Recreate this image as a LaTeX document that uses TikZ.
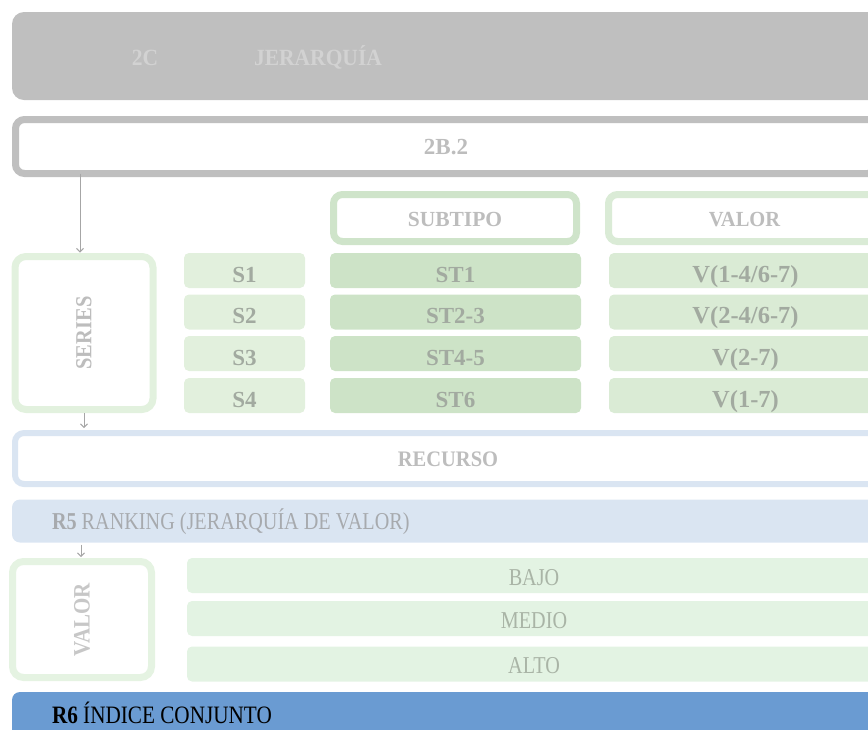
\documentclass[tikz,border=0pt]{standalone}
\usepackage{fontspec}
\setmainfont{Liberation Serif}
\usetikzlibrary{arrows.meta,calc}
\definecolor{cTop}{HTML}{BFBFBF}
\definecolor{cTopTxt}{HTML}{D2D2D2}
\definecolor{cB2}{HTML}{BFBFBF}
\definecolor{cGrayTxt}{HTML}{BDBDBD}
\definecolor{cSubB}{HTML}{CFE4CA}
\definecolor{cValB}{HTML}{DAEBD6}
\definecolor{cS}{HTML}{E2F0DD}
\definecolor{cST}{HTML}{CDE3C7}
\definecolor{cV}{HTML}{DAEBD5}
\definecolor{cSerB}{HTML}{E2F1DE}
\definecolor{cTxt}{HTML}{A2AAA0}
\definecolor{cR5Txt}{HTML}{A7AAAE}
\definecolor{cRecB}{HTML}{DAE5F2}
\definecolor{cR5}{HTML}{DAE5F2}
\definecolor{cValL}{HTML}{E5F3E2}
\definecolor{cLvl}{HTML}{E3F3E3}
\definecolor{cLvlTxt}{HTML}{A9B4A6}
\definecolor{cR6}{HTML}{6A9BD2}
\definecolor{cArr}{HTML}{A6A6A6}
\newcommand\vstretch[1]{\scalebox{1}[1.2]{#1}}
\begin{document}
\begin{tikzpicture}[x=1pt,y=-1pt,
  base/.style={inner sep=0pt, outer sep=0pt},
  hfont/.style={font=\fontsize{21.5}{25}\selectfont\bfseries},
  rfont/.style={font=\fontsize{20.2}{24}\selectfont},
  frame/.style={base, draw, line width=7pt, rounded corners=9pt, fill=white},
  cell/.style={base, rounded corners=5pt, minimum height=35pt, text height=23pt, text depth=0pt,
     font=\fontsize{23}{26}\selectfont\bfseries, text=cTxt},
  vcell/.style={cell, font=\fontsize{24.5}{27}\selectfont\bfseries, fill=cV, minimum width=273pt},
  lvl/.style={base, rounded corners=5pt, minimum height=35pt, text height=19pt, text depth=0pt,
     rfont, text=cLvlTxt, fill=cLvl, minimum width=694pt},
  conn/.style={draw=cArr, line width=1pt, -{Straight Barb[length=3.5pt,width=7pt]}}
]
\useasboundingbox (0,0) rectangle (868,729);
\clip (0,0) rectangle (868,729);

% top header
\node[base, fill=cTop, rounded corners=12pt, minimum width=908pt, minimum height=88pt] (top) at (466,56) {};
\node[base, hfont, text=cTopTxt, anchor=base] (t2c) at (145,65) {\scalebox{1}[1.08]{2C}};
\node[base, hfont, text=cTopTxt, anchor=base] (tjer) at (318,65) {\scalebox{1}[1.08]{JERARQUÍA}};

% 2B.2
\node[frame, draw=cB2, minimum width=861pt, minimum height=54pt, text height=15pt, text depth=0pt,
  font=\fontsize{23}{26}\selectfont\bfseries, text=cGrayTxt] (b2) at (446,146.5) {2B.2};

% headers
\node[frame, draw=cSubB, minimum width=243pt, minimum height=47pt, text height=16pt, text depth=0pt,
  hfont, text=cGrayTxt] (hsub) at (455,218) {SUBTIPO};
\node[frame, draw=cValB, minimum width=272pt, minimum height=47pt, text height=16pt, text depth=0pt,
  font=\fontsize{20.5}{24}\selectfont\bfseries, text=cGrayTxt] (hval) at (744.5,218) {\scalebox{1}[1.05]{VALOR}};

% series box
\node[frame, draw=cSerB, minimum width=138pt, minimum height=153pt, rounded corners=11pt,
  font=\fontsize{20.5}{24}\selectfont\bfseries, text=cGrayTxt] (series) at (84,333) {\rotatebox{90}{\scalebox{1}[1.12]{SERIES}}};

% rows
\node[cell, fill=cS, minimum width=121pt] (s1) at (244.5,270.5) {S1};
\node[cell, fill=cS, minimum width=121pt] (s2) at (244.5,312) {S2};
\node[cell, fill=cS, minimum width=121pt] (s3) at (244.5,353.5) {S3};
\node[cell, fill=cS, minimum width=121pt] (s4) at (244.5,395.5) {S4};
\node[cell, fill=cST, minimum width=251pt] (st1) at (455.5,270.5) {ST1};
\node[cell, fill=cST, minimum width=251pt] (st2) at (455.5,312) {ST2-3};
\node[cell, fill=cST, minimum width=251pt] (st3) at (455.5,353.5) {ST4-5};
\node[cell, fill=cST, minimum width=251pt] (st4) at (455.5,395.5) {ST6};
\node[vcell] (v1) at (745.5,270.5) {V(1-4/6-7)};
\node[vcell] (v2) at (745.5,312) {V(2-4/6-7)};
\node[vcell] (v3) at (745.5,353.5) {V(2-7)};
\node[vcell] (v4) at (745.5,395.5) {V(1-7)};

% recurso
\node[frame, draw=cRecB, line width=6pt, minimum width=866pt, minimum height=51pt, text height=16.4pt, text depth=0pt,
  font=\fontsize{20.5}{24}\selectfont\bfseries, text=cGrayTxt] (rec) at (448,458.5) {\scalebox{1}[1.08]{RECURSO}};

% R5 bar
\node[base, fill=cR5, rounded corners=8pt, minimum width=908pt, minimum height=43pt] (r5) at (466,521) {};
\node[base, rfont, text=cR5Txt, anchor=base west] (r5t) at (52,529) {\vstretch{\textbf{R5} RANKING (JERARQUÍA DE VALOR)}};

% valor box
\node[frame, draw=cValL, minimum width=139pt, minimum height=116pt, rounded corners=11pt,
  font=\fontsize{21}{24}\selectfont\bfseries, text=cGrayTxt!85!white] (valbox) at (82,619.5) {\rotatebox{90}{\scalebox{1}[1.12]{VALOR}}};

% levels
\node[lvl] (bajo) at (534,575.5) {\vstretch{BAJO}};
\node[lvl] (medio) at (534,618.5) {\vstretch{MEDIO}};
\node[lvl] (alto) at (534,664) {\vstretch{ALTO}};

% R6
\node[base, fill=cR6, rounded corners=8pt, minimum width=908pt, minimum height=50pt] (r6) at (466,717) {};
\node[base, font=\fontsize{21.2}{25}\selectfont, text=black, anchor=base west] (r6t) at (52,723) {\scalebox{1}[1.18]{\textbf{R6} ÍNDICE CONJUNTO}};

% connectors
\coordinate (xa) at (80,0);
\coordinate (xb) at (84,0);
\coordinate (xc) at (81,0);
\draw[conn, shorten >=4pt] (b2.south -| xa) -- (series.north -| xa);
\draw[conn, shorten <=3.5pt, shorten >=5pt] (series.south -| xb) -- (rec.north -| xb);
\draw[conn, shorten <=2pt, shorten >=4.5pt] (r5.south -| xc) -- (valbox.north -| xc);
\end{tikzpicture}
\end{document}
